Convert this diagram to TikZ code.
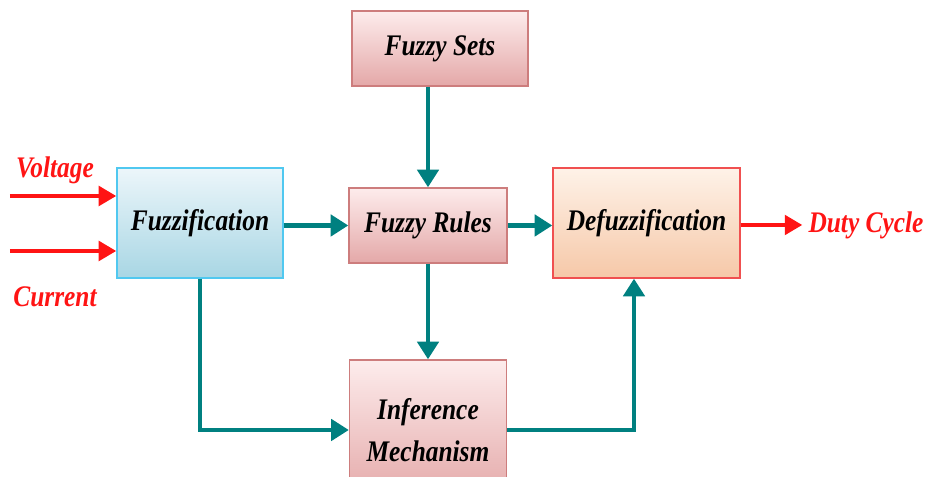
\documentclass[tikz,border=0pt]{standalone}
\usepackage{fontspec}
\setmainfont{Liberation Serif}[FakeStretch=0.85]
\usetikzlibrary{arrows.meta}
\definecolor{tealline}{RGB}{0,128,128}
\definecolor{arrowred}{RGB}{255,20,20}
\tikzset{
  blk/.style={draw,line width=0.8pt,minimum width=#1,font=\fontsize{17}{24}\selectfont\bfseries\itshape,align=center},
  pinkblk/.style={blk=#1,draw={rgb,255:red,205;green,125;blue,125},top color={rgb,255:red,253;green,236;blue,236},bottom color={rgb,255:red,228;green,168;blue,168}},
  flow/.style={line width=2.4pt,draw=tealline,-{Triangle[length=10pt,width=12pt]}},
  sig/.style={line width=2.4pt,draw=arrowred,-{Triangle[length=10pt,width=11pt]}},
  sigtext/.style={text=arrowred,font=\fontsize{17}{20}\selectfont\bfseries\itshape}
}
\begin{document}
\begin{tikzpicture}
      \useasboundingbox (0,0) rectangle (18.5,9.54);

      \node[pinkblk=3.52cm,minimum height=1.5cm] (sets) at (8.8,8.57) {Fuzzy Sets};
      \node[blk=3.32cm,minimum height=2.2cm,draw={rgb,255:red,80;green,200;blue,240},top color={rgb,255:red,236;green,246;blue,250},bottom color={rgb,255:red,168;green,214;blue,228}] (fuzz) at (4.0,5.08) {Fuzzification};
      \node[pinkblk=3.16cm,minimum height=1.5cm] (rules) at (8.56,5.03) {Fuzzy Rules};
      \node[blk=3.74cm,minimum height=2.2cm,draw={rgb,255:red,240;green,80;blue,80},top color={rgb,255:red,254;green,242;blue,232},bottom color={rgb,255:red,246;green,200;blue,168}] (defuzz) at (12.93,5.08) {Defuzzification};
      \node[pinkblk=3.14cm,minimum height=2.8cm] (infer) at (8.56,0.94) {Inference\\Mechanism};

      \coordinate (vin) at (0.2,5.62);
      \coordinate (iin) at (0.2,4.52);
      \node[sigtext] (volt) at (1.1,6.14) {Voltage};
      \node[sigtext] (curr) at (1.1,3.6) {Current};
      \node[sigtext] (duty) at (17.32,5.04) {Duty Cycle};

      \draw[sig] (vin) -- (vin -| fuzz.west);
      \draw[sig] (iin) -- (iin -| fuzz.west);
      \draw[sig] (defuzz.east |- duty) -- (duty.west);

      \draw[flow] (fuzz.east |- rules) -- (rules.west);
      \draw[flow] (rules.north |- sets.south) -- (rules.north);
      \draw[flow] (rules.south) -- (infer.north);
      \draw[flow] (rules.east) -- (rules.east -| defuzz.west);
      \draw[flow] (fuzz.south) |- (infer.west);
      \draw[flow] (infer.east) -| ([xshift=-0.25cm]defuzz.south);
    \end{tikzpicture}
\end{document}
